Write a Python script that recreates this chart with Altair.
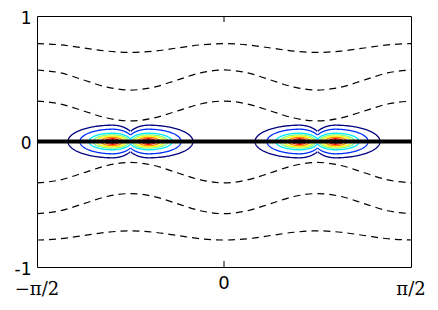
import numpy as np
import pandas as pd
import altair as alt

PI = np.pi

# ---- dashed contour lines (values read at x = k*pi/16, k=-8..8) ----
dash_k = list(range(-8, 9))
dash_upper1 = [0.78, 0.77, 0.745, 0.72, 0.71, 0.72, 0.745, 0.77, 0.78, 0.77, 0.745, 0.72, 0.71, 0.72, 0.745, 0.77, 0.78]
dash_upper2 = [0.57, 0.547, 0.49, 0.433, 0.41, 0.433, 0.49, 0.547, 0.57, 0.547, 0.49, 0.433, 0.41, 0.433, 0.49, 0.547, 0.57]
dash_upper3 = [0.322, 0.299, 0.243, 0.187, 0.164, 0.187, 0.243, 0.299, 0.322, 0.299, 0.243, 0.187, 0.164, 0.187, 0.243, 0.299, 0.322]
dash_lower1 = [-0.33, -0.306, -0.249, -0.191, -0.167, -0.191, -0.249, -0.306, -0.33, -0.306, -0.249, -0.191, -0.167, -0.191, -0.249, -0.306, -0.33]
dash_lower2 = [-0.575, -0.552, -0.495, -0.438, -0.415, -0.438, -0.495, -0.552, -0.575, -0.552, -0.495, -0.438, -0.415, -0.438, -0.495, -0.552, -0.575]
dash_lower3 = [-0.785, -0.775, -0.749, -0.723, -0.712, -0.723, -0.749, -0.775, -0.785, -0.775, -0.749, -0.723, -0.712, -0.723, -0.749, -0.775, -0.785]
dash_series = {"u1": dash_upper1, "u2": dash_upper2, "u3": dash_upper3,
               "l1": dash_lower1, "l2": dash_lower2, "l3": dash_lower3}

# ---- coloured contour rings around two pairs of peaks ----
pair_centers = [-PI / 4, PI / 4]
peak_offset = 0.15
levels = ["c1", "c2", "c3", "c4", "c5", "c6", "c7", "c8"]
ring_outer = [0.375, 0.275, 0.200, 0.165, 0.135, 0.098, 0.063, 0.030]   # half-width away from pair centre
ring_inner = [0.190, 0.175, 0.155, 0.135, 0.115, 0.085, 0.055, 0.027]   # half-width toward pair centre
ring_half_h = [0.130, 0.098, 0.066, 0.053, 0.043, 0.033, 0.022, 0.012]
ring_colors = ["#000080", "#0030ff", "#00e8ff", "#80ff80", "#faff05", "#ff8a00", "#ff1000", "#800000"]

# axis labels
y_ticks = [-1, 0, 1]
x_tick_pos = [-PI / 2, 0.0, PI / 2]
x_tick_text = ["\u2212\u03c0/2", "0", "\u03c0/2"]
zero_line = [0.0]

W, H = 374, 251

# build tables
rows = []
for name, vals in dash_series.items():
    for i, (k, v) in enumerate(zip(dash_k, vals)):
        rows.append({"id": name, "x": k * PI / 16, "y": v, "o": i})
dash_df = pd.DataFrame(rows)

crows = []
theta = np.linspace(0, 2 * PI, 241)
for pc in pair_centers:
    for s in (-1, 1):
        xc = pc + s * peak_offset
        inward = -s
        xo = pc - s * peak_offset
        other_inward = s
        th0 = 0.0 if inward > 0 else PI
        for li, lev in enumerate(levels):
            ao, ai, b = ring_outer[li], ring_inner[li], ring_half_h[li]
            idx = 0
            for t in theta:
                c, sn = np.cos(th0 + t), np.sin(th0 + t)
                a = ai if c * inward > 0 else ao
                x = xc + a * c
                y = b * sn
                dx = x - xo
                a2 = ai if dx * other_inward > 0 else ao
                if (dx / a2) ** 2 + (y / b) ** 2 < 1.0:
                    continue
                crows.append({"id": f"{pc:.3f}_{s}_{lev}", "level": lev, "x": x, "y": y, "o": idx})
                idx += 1
ring_df = pd.DataFrame(crows)

xs = alt.Scale(domain=[-PI / 2, PI / 2], nice=False, zero=False)
ys = alt.Scale(domain=[-1, 1], nice=False, zero=False)

dashed = alt.Chart(dash_df).mark_line(
    color="black", strokeWidth=1.2, strokeDash=[7, 5], interpolate="monotone"
).encode(
    x=alt.X("x:Q", scale=xs, axis=None),
    y=alt.Y("y:Q", scale=ys, axis=alt.Axis(values=y_ticks, labelExpr="'' + datum.value",
                                            ticks=False, domain=False, grid=False, title=None,
                                            labelFont="DejaVu Sans", labelFontSize=17,
                                            labelColor="black", labelPadding=6, labelOffset=2)),
    detail="id:N", order="o:Q",
)

rings = alt.Chart(ring_df).mark_line(strokeWidth=1.3).encode(
    x=alt.X("x:Q", scale=xs),
    y=alt.Y("y:Q", scale=ys),
    color=alt.Color("level:N", scale=alt.Scale(domain=levels, range=ring_colors), legend=None),
    detail="id:N", order="o:Q",
)

thick = alt.Chart(pd.DataFrame({"y": zero_line})).mark_rule(color="black", strokeWidth=4).encode(
    y=alt.Y("y:Q", scale=ys)
)

tick_df = pd.DataFrame({"x": [0.0]})
tick_top = alt.Chart(tick_df).mark_rule(color="black", strokeWidth=1).encode(
    x=alt.X("x:Q", scale=xs), y=alt.value(0), y2=alt.value(6))
tick_bot = alt.Chart(tick_df).mark_rule(color="black", strokeWidth=1).encode(
    x=alt.X("x:Q", scale=xs), y=alt.value(H), y2=alt.value(H - 6))

lab_df = pd.DataFrame({"x": x_tick_pos, "t": x_tick_text})
lab_sans = alt.Chart(lab_df[lab_df["t"] == "0"]).mark_text(
    font="DejaVu Sans", fontSize=18, color="black", baseline="middle", align="center"
).encode(x=alt.X("x:Q", scale=xs), y=alt.value(H + 17), text="t:N")
lab_serif = alt.Chart(lab_df[lab_df["t"] != "0"]).mark_text(
    font="DejaVu Serif", fontSize=18, color="black", baseline="middle", align="center"
).encode(x=alt.X("x:Q", scale=xs), y=alt.value(H + 23), text="t:N")

chart = alt.layer(dashed, rings, thick, tick_top, tick_bot, lab_sans, lab_serif).properties(
    width=W, height=H,
    padding={"left": 29, "top": 8, "right": 16, "bottom": 32},
    autosize=alt.AutoSizeParams(type="none"),
).configure_view(stroke="black", strokeWidth=1)

chart.save("out.html", embed_options={"renderer": "svg", "actions": False})
